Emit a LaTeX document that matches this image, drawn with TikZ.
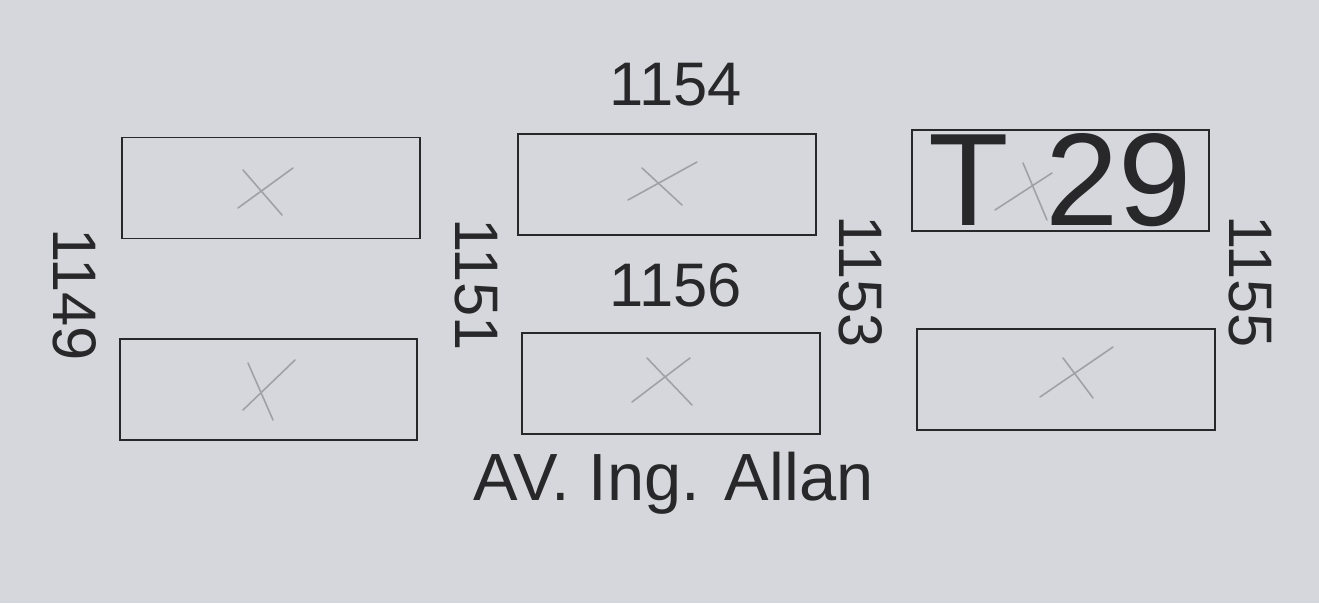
\documentclass[tikz,border=0pt]{standalone}
\usepackage{fontspec}
\setmainfont{Liberation Sans}
\usepackage{xcolor}
\definecolor{paper}{RGB}{214,215,220}
\definecolor{ink}{RGB}{40,40,42}
\definecolor{pencil}{RGB}{160,161,166}

\tikzset{
	lot/.style={draw=ink, line width=1pt, rectangle, inner sep=0pt, minimum width=5.95cm, minimum height=2.02cm},
	num/.style={text=ink, inner sep=0pt, font=\fontsize{35}{40}\selectfont},
	cross/.style={draw=pencil, line width=0.9pt, line cap=round}
}

\begin{document}
\begin{tikzpicture}
		\fill[paper] (0,0) rectangle (26.38,12.06);
		\useasboundingbox (0,0) rectangle (26.38,12.06);

		% lots
		\node (lot1) [lot] at (5.42,8.30) {};
		\node (lot2) [lot] at (13.34,8.37) {};
		\node (lot3) [lot, text=ink, font=\fontsize{75}{80}\selectfont] at (21.21,8.45) {T 29};
		\node (lot4) [lot] at (5.37,4.27) {};
		\node (lot5) [lot] at (13.42,4.39) {};
		\node (lot6) [lot] at (21.32,4.47) {};

		% numbers
		\node (n1154) [num] at (13.52,10.36) {1154};
		\node (n1156) [num] at (13.52,6.36) {1156};
		\node (n1149) [num, rotate=-90] at (1.50,6.16) {1149};
		\node (n1151) [num, rotate=-90] at (9.52,6.36) {1151};
		\node (n1153) [num, rotate=-90] at (17.22,6.42) {1153};
		\node (n1155) [num, rotate=-90] at (25.00,6.42) {1155};

		% street
		\node (street) [text=ink, inner sep=0pt, anchor=base, font=\fontsize{38}{44}\selectfont] at (13.47,2.06) {AV. Ing. Allan};

		% pencil marks
		\draw[cross] ([shift={(-0.56,0.36)}]lot1.center) -- ([shift={(0.22,-0.54)}]lot1.center);
		\draw[cross] ([shift={(0.44,0.40)}]lot1.center) -- ([shift={(-0.66,-0.40)}]lot1.center);
		\draw[cross] ([shift={(-0.50,0.33)}]lot2.center) -- ([shift={(0.30,-0.41)}]lot2.center);
		\draw[cross] ([shift={(0.60,0.45)}]lot2.center) -- ([shift={(-0.78,-0.31)}]lot2.center);
		\draw[cross] ([shift={(-0.75,0.35)}]lot3.center) -- ([shift={(-0.27,-0.79)}]lot3.center);
		\draw[cross] ([shift={(-0.17,0.15)}]lot3.center) -- ([shift={(-1.31,-0.59)}]lot3.center);
		\draw[cross] ([shift={(-0.41,0.53)}]lot4.center) -- ([shift={(0.09,-0.61)}]lot4.center);
		\draw[cross] ([shift={(0.53,0.59)}]lot4.center) -- ([shift={(-0.51,-0.41)}]lot4.center);
		\draw[cross] ([shift={(-0.48,0.51)}]lot5.center) -- ([shift={(0.42,-0.43)}]lot5.center);
		\draw[cross] ([shift={(0.38,0.51)}]lot5.center) -- ([shift={(-0.78,-0.37)}]lot5.center);
		\draw[cross] ([shift={(-0.06,0.43)}]lot6.center) -- ([shift={(0.54,-0.37)}]lot6.center);
		\draw[cross] ([shift={(0.94,0.65)}]lot6.center) -- ([shift={(-0.52,-0.35)}]lot6.center);
\end{tikzpicture}
\end{document}
